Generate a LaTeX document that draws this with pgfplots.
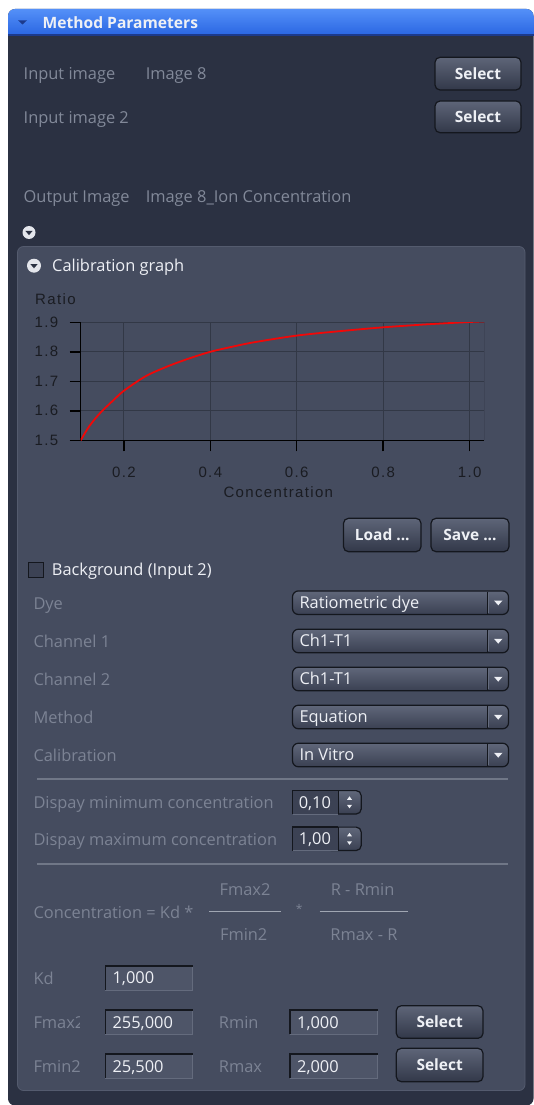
\documentclass[border=0pt]{standalone}
\usepackage{pgfplots}
\pgfplotsset{compat=1.18}
\usepackage{pgfplotstable}
\usepackage{fontspec}
\setmainfont{Open Sans}
\newfontfamily\chartfont{Liberation Sans}[LetterSpace=9.0]

\definecolor{outerbg}{RGB}{43,49,66}
\definecolor{innerbg}{RGB}{69,76,95}
\definecolor{inneredge}{RGB}{84,91,110}
\definecolor{hdrtop}{RGB}{84,144,248}
\definecolor{hdrbot}{RGB}{42,102,226}
\definecolor{hdrline}{RGB}{28,58,140}
\definecolor{lblgrey}{RGB}{130,137,153}
\definecolor{dimgrey}{RGB}{124,131,148}
\definecolor{btntop}{RGB}{94,101,120}
\definecolor{btnbot}{RGB}{50,56,73}
\definecolor{btnedge}{RGB}{20,23,30}
\definecolor{ddtop}{RGB}{96,103,122}
\definecolor{ddbot}{RGB}{58,64,82}
\definecolor{fieldbg}{RGB}{78,85,104}
\definecolor{fieldlight}{RGB}{100,107,125}
\definecolor{spinbg}{RGB}{60,66,84}
\definecolor{sepline}{RGB}{112,119,135}
\definecolor{fracline}{RGB}{160,166,178}
\definecolor{gridc}{RGB}{50,56,70}
\definecolor{ticktxt}{RGB}{26,28,34}
\definecolor{curvered}{RGB}{240,8,8}
\definecolor{txtwhite}{RGB}{238,240,245}
\definecolor{iconfill}{RGB}{228,230,236}

% calibration curve
\pgfplotstableread{
c r
0.100 1.500
0.110 1.525
0.120 1.548
0.135 1.576
0.150 1.600
0.175 1.635
0.200 1.668
0.250 1.717
0.300 1.750
0.350 1.777
0.400 1.800
0.450 1.817
0.500 1.832
0.600 1.855
0.700 1.870
0.800 1.883
0.900 1.893
1.000 1.901
1.034 1.903
}\calib

\newcommand{\uifont}{\fontsize{16.4}{19}\selectfont}
\newcommand{\btnfont}{\bfseries\fontsize{15.5}{18}\selectfont}

% button: x1 y1 x2 y2 text
\newcommand{\btn}[5]{%
  \draw[rounded corners=5pt, top color=btntop, bottom color=btnbot, draw=btnedge, line width=1.2pt] (#1,#2) rectangle (#3,#4);
  \node[anchor=base, text=txtwhite, inner sep=0pt, font=\btnfont] at ({(#1+#3)/2},{(#2+#4)/2+5.6}) {#5};}
% dropdown: ycenter text
\newcommand{\dd}[2]{%
  \draw[rounded corners=6pt, top color=ddtop, bottom color=ddbot, draw=btnedge, line width=1.2pt] (292.5,#1-11.8) rectangle (508.5,#1+11.8);
  \draw[btnedge, line width=1pt] (487,#1-11) -- (487,#1+11);
  \draw[fieldlight, line width=0.6pt] (488.2,#1-10) -- (488.2,#1+10);
  \fill[txtwhite] (494,#1-2.2) -- (502.5,#1-2.2) -- (498.25,#1+2.6) -- cycle;
  \node[anchor=base west, text=txtwhite, inner sep=0pt, font=\uifont] at (299.3,#1+5.8) {#2};}
% spin box: ycenter text
\newcommand{\spin}[2]{%
  \draw[rounded corners=5pt, top color=ddtop, bottom color=ddbot, draw=btnedge, line width=1.2pt] (326,#1-11.7) rectangle (361.2,#1+11.7);
  \fill[spinbg] (292.5,#1-11.7) rectangle (338.4,#1+11.7);
  \draw[btnedge, line width=1.5pt] (292.5,#1+11.7) -- (292.5,#1-11.7) -- (338.4,#1-11.7);
  \draw[fieldlight, line width=0.8pt] (292.5,#1+11.7) -- (338.4,#1+11.7);
  \draw[btnedge, line width=1pt] (338.4,#1-11.7) -- (338.4,#1+11.7);
  \fill[txtwhite] (347,#1-2.5) -- (352,#1-2.5) -- (349.5,#1-6) -- cycle;
  \fill[txtwhite] (347,#1+2.5) -- (352,#1+2.5) -- (349.5,#1+6) -- cycle;
  \node[anchor=base west, text=txtwhite, inner sep=0pt, font=\uifont] at (298.6,#1+5.8) {#2};}
% text field: x1 x2 ycenter text
\newcommand{\field}[4]{%
  \fill[fieldbg] (#1,#3-12) rectangle (#2,#3+12);
  \draw[fieldlight, line width=1pt] (#1,#3+12) -- (#2,#3+12) -- (#2,#3-12);
  \draw[btnedge, line width=1.6pt] (#1,#3+12) -- (#1,#3-12) -- (#2,#3-12);
  \node[anchor=base west, text=txtwhite, inner sep=0pt, font=\uifont] at (#1+7,#3+5.8) {#4};}
% grey label: x ycenter colour text
\newcommand{\lbl}[4]{%
  \node[anchor=base west, text=#3, inner sep=0pt, font=\uifont] at (#1,#2+5.8) {#4};}
% round expander icon
\newcommand{\icon}[3]{%
  \fill[iconfill] (#1,#2) circle (#3);
  \fill[outerbg] (#1-3.6,#2-1.6) -- (#1+3.6,#2-1.6) -- (#1,#2+2.6) -- cycle;}

\begin{document}
\begin{tikzpicture}[x=1pt, y=-1pt]
\useasboundingbox (0,0) rectangle (533,1105);
\fill[white] (0,0) rectangle (533,1105);

% outer panel and header
\fill[outerbg, rounded corners=7pt] (8,9) rectangle (533.5,1105.5);
\shade[top color=hdrtop, bottom color=hdrbot] (8,35) [rounded corners=7pt] -- (8,9) -- (533.5,9) [sharp corners] -- (533.5,35) -- cycle;
\draw[hdrline, line width=1.2pt] (8,35) -- (533.5,35);
\fill[hdrline] (18,20.3) -- (27,20.3) -- (22.5,24.5) -- cycle;
\node[anchor=base west, text=txtwhite, inner sep=0pt, font=\bfseries\fontsize{15.6}{18}\selectfont] at (42.5,28.4) {Method Parameters};

% image selection
\lbl{23.5}{73.3}{lblgrey}{Input image}
\lbl{145.6}{73.3}{lblgrey}{Image 8}
\btn{435}{57.3}{521}{90}{Select}
\lbl{23.5}{117.3}{lblgrey}{Input image 2}
\btn{435}{101}{521}{132.7}{Select}
\lbl{23.5}{196.7}{lblgrey}{Output Image}
\lbl{145.6}{196.7}{lblgrey}{Image 8\_Ion Concentration}
\icon{29}{232.5}{6.5}

% inner panel
\fill[innerbg, draw=inneredge, line width=0.8pt, rounded corners=6pt] (17.5,246.5) rectangle (525,1090.5);
\icon{34}{265.7}{7}
\lbl{52}{265.7}{txtwhite}{Calibration graph}

% calibration graph
\node[anchor=base west, text=ticktxt, inner sep=0pt, font=\chartfont\fontsize{15}{18}\selectfont] at (35,304.6) {Ratio};
\node[anchor=base, text=ticktxt, inner sep=0pt, font=\chartfont\fontsize{15}{18}\selectfont] at (278.3,497.5) {Concentration};
\begin{axis}[
  at={(80.7pt,-440.3pt)}, anchor=south west,
  scale only axis, width=403.6pt, height=118pt,
  xmin=0.1, xmax=1.034, ymin=1.5, ymax=1.9,
  xtick={0.2,0.4,0.6,0.8,1.0}, ytick={1.5,1.6,1.7,1.8,1.9},
  axis x line*=bottom, axis y line*=left,
  axis line style={-, black, line width=1.4pt},
  tick style={black, line width=1.4pt},
  tick align=outside, major tick length=11pt,
  grid=major, grid style={gridc, line width=0.9pt},
  ticklabel style={font=\chartfont\fontsize{15}{18}\selectfont, text=ticktxt},
  xticklabel style={yshift=-12pt},
  yticklabel style={xshift=-8pt},
  /pgf/number format/assume math mode=true,
  /pgf/number format/fixed,
  /pgf/number format/fixed zerofill,
  /pgf/number format/precision=1,
]
\draw[gridc, line width=0.9pt] (rel axis cs:1,0) -- (rel axis cs:1,1);
\addplot[curvered, line width=1.8pt, smooth] table {\calib};
\end{axis}

\btn{343.5}{518.3}{421}{551.7}{Load ...}
\btn{431}{518.3}{509}{551.7}{Save ...}

% dye settings
\filldraw[fill=spinbg, draw=btnedge, line width=1pt] (28,562.5) rectangle (43,577);
\lbl{51.7}{570}{txtwhite}{Background (Input 2)}
\lbl{33.3}{604}{dimgrey}{Dye}
\dd{602.7}{Ratiometric dye}
\lbl{33.3}{642}{dimgrey}{Channel 1}
\dd{641}{Ch1-T1}
\lbl{33.3}{680}{dimgrey}{Channel 2}
\dd{679}{Ch1-T1}
\lbl{33.3}{717.7}{dimgrey}{Method}
\dd{717}{Equation}
\lbl{33.3}{756}{dimgrey}{Calibration}
\dd{755}{In Vitro}
\draw[sepline, line width=1.2pt] (37.4,779) -- (507.5,779);

\lbl{33.3}{802.7}{dimgrey}{Dispay minimum concentration}
\spin{802.3}{0,10}
\lbl{33.3}{839.3}{dimgrey}{Dispay maximum concentration}
\spin{838.8}{1,00}
\draw[sepline, line width=1.2pt] (37.4,864) -- (507.5,864);

% equation
\lbl{33.3}{912.7}{dimgrey}{Concentration = Kd *}
\node[anchor=base, text=dimgrey, inner sep=0pt, font=\uifont] at (245,895.8) {Fmax2};
\draw[fracline, line width=1.5pt] (209,911.7) -- (281,911.7);
\node[anchor=base, text=dimgrey, inner sep=0pt, font=\uifont] at (243.7,940.8) {Fmin2};
\node[anchor=base, text=dimgrey, inner sep=0pt, font=\fontsize{12}{14}\selectfont] at (299.3,913) {*};
\node[anchor=base, text=dimgrey, inner sep=0pt, font=\uifont] at (362.6,895.8) {R - Rmin};
\draw[fracline, line width=1.5pt] (319.7,911.7) -- (407.5,911.7);
\node[anchor=base, text=dimgrey, inner sep=0pt, font=\uifont] at (364,940.8) {Rmax - R};

% constants
\lbl{33.3}{978.3}{dimgrey}{Kd}
\field{105.4}{192.9}{978}{1,000}
\begin{scope}
\clip (30,1005) rectangle (79,1085);
\lbl{33.3}{1022.7}{dimgrey}{Fmax2}
\end{scope}
\lbl{33.3}{1066.7}{dimgrey}{Fmin2}
\field{105.4}{192.9}{1022.2}{255,000}
\lbl{218.7}{1022.7}{dimgrey}{Rmin}
\field{290}{377.6}{1022.2}{1,000}
\btn{396.3}{1005.7}{483}{1038.3}{Select}
\field{105.4}{192.9}{1066.2}{25,500}
\lbl{218.7}{1066.7}{dimgrey}{Rmax}
\field{290}{377.6}{1066.2}{2,000}
\btn{396.3}{1048.3}{483}{1081.7}{Select}
\end{tikzpicture}
\end{document}
